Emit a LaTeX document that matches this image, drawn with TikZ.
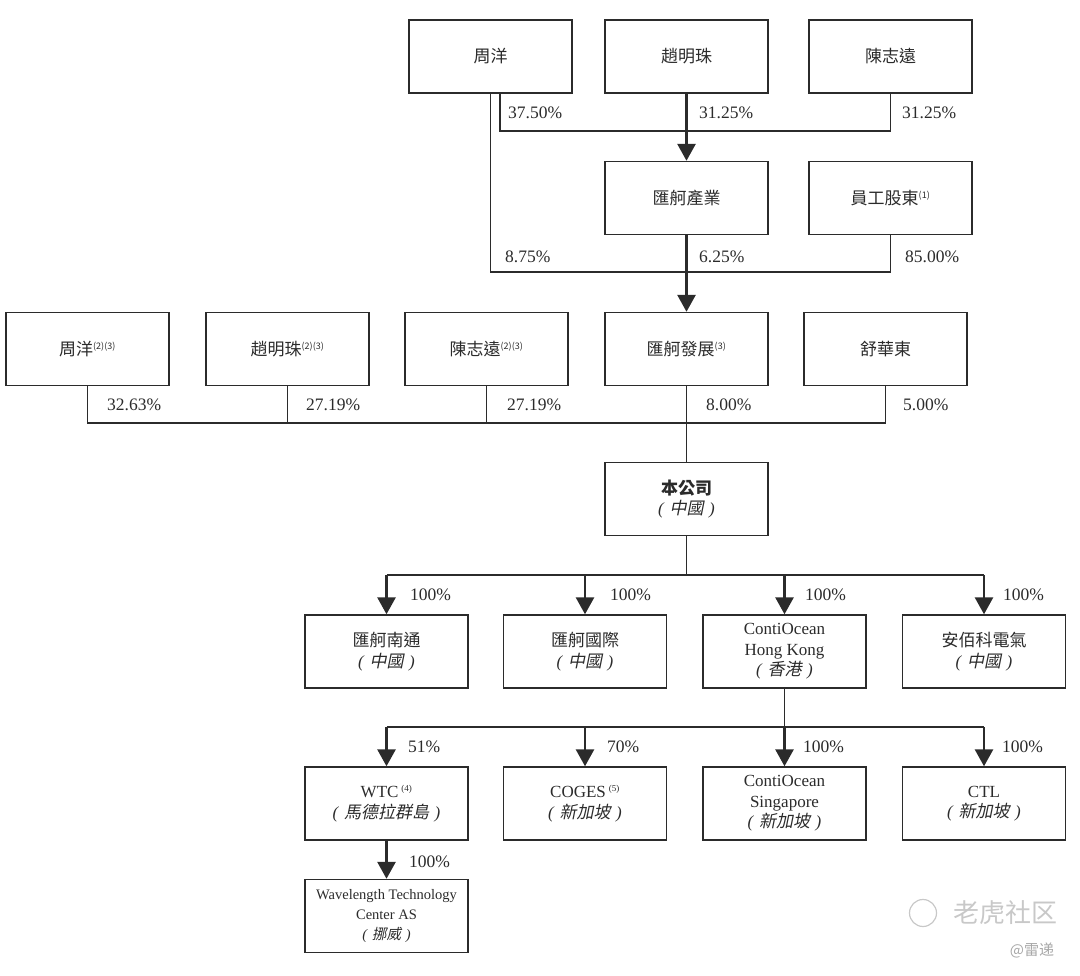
\documentclass[tikz,border=0pt]{standalone}
\usepackage{fontspec}
\setmainfont{Liberation Serif}
\newfontfamily\zhfont{Noto Sans CJK TC}
\newfontfamily\zhit{Noto Sans CJK TC}[FakeSlant=0.2]
\newfontfamily\zhsc{Noto Sans CJK SC}
\usetikzlibrary{arrows.meta}
\definecolor{ink}{HTML}{2B2B2B}
\definecolor{wm}{HTML}{C8C8C8}
\definecolor{wmdark}{HTML}{A8A8A8}
\newcommand\locn[1]{{\itshape(\,}\,{\zhit #1}\,{\itshape\,)}}
\newcommand\fn[1]{\textsuperscript{\fontsize{9}{9}\selectfont #1}}
\begin{document}
\begin{tikzpicture}[x=1pt,y=-1pt,
  box/.style={draw=ink, line width=1.4pt, minimum width=163pt, minimum height=73pt,
    inner sep=2pt, align=center, text=ink, font={\fontsize{17}{20.5}\selectfont}},
  smallbox/.style={box, font={\fontsize{14.5}{20}\selectfont}},
  line/.style={draw=ink, line width=1.4pt},
  arr/.style={draw=ink, line width=2.8pt, -{Triangle[width=18pt,length=17pt]}},
  pct/.style={anchor=west, inner sep=0pt, text=ink, font={\fontsize{17.5}{20}\selectfont}}]
\useasboundingbox (0,0) rectangle (1080,976);

% row 1
\node[box] (zy1) at (490.5,56.5) {\zhfont 周洋};
\node[box] (zm1) at (686.5,56.5) {\zhfont 趙明珠};
\node[box] (cz1) at (890.5,56.5) {\zhfont 陳志遠};
% row 2
\node[box] (hcy) at (686.5,198) {\zhfont 匯舸產業};
\node[box] (ygd) at (890.5,198) {\zhfont 員工股東\fn{(1)}};
% row 3
\node[box] (zy3) at (87.5,349) {\zhfont 周洋\fn{(2)(3)}};
\node[box] (zm3) at (287.5,349) {\zhfont 趙明珠\fn{(2)(3)}};
\node[box] (cz3) at (486.5,349) {\zhfont 陳志遠\fn{(2)(3)}};
\node[box] (hcf) at (686.5,349) {\zhfont 匯舸發展\fn{(3)}};
\node[box] (shd) at (885.5,349) {\zhfont 舒華東};
% company
\node[box] (gs) at (686.5,499) {{\zhfont\bfseries 本公司}\\\locn{中國}};
% row 5
\node[box] (r5a) at (386.5,651.5) {\zhfont 匯舸南通\\\locn{中國}};
\node[box] (r5b) at (585,651.5) {\zhfont 匯舸國際\\\locn{中國}};
\node[box] (r5c) at (784.5,651.5) {ContiOcean\\Hong Kong\\\locn{香港}};
\node[box] (r5d) at (984,651.5) {\zhfont 安佰科電氣\\\locn{中國}};
% row 6
\node[box] (r6a) at (386.5,803.5) {WTC\,\fn{(4)}\\\locn{馬德拉群島}};
\node[box] (r6b) at (585,803.5) {COGES\,\fn{(5)}\\\locn{新加坡}};
\node[box] (r6c) at (784.5,803.5) {ContiOcean\\Singapore\\\locn{新加坡}};
\node[box] (r6d) at (984,803.5) {CTL\\\locn{新加坡}};
% row 7
\node[smallbox] (r7) at (386.5,916) {Wavelength Technology\\Center AS\\\locn{挪威}};

% junctions
\coordinate (j1) at (686.5,131);
\coordinate (j2) at (686.5,272);
\coordinate (j3) at (686.5,423);
\coordinate (j4) at (686.5,575);
\coordinate (j5) at (784.5,727);

% connectors
\draw[line] ([xshift=9.5pt]zy1.south) |- (j1) -| (cz1.south);
\draw[line] (zy1.south) |- (j2) -| (ygd.south);
\draw[arr] (zm1.south) -- (hcy.north);
\draw[arr] (hcy.south) -- (hcf.north);
\draw[line] (zy3.south) |- (j3) -| (shd.south);
\draw[line] (zm3.south) -- (zm3.south |- j3);
\draw[line] (cz3.south) -- (cz3.south |- j3);
\draw[line] (hcf.south) -- (gs.north);
\draw[line] (gs.south) -- (j4);
\draw[line] (r5a.north |- j4) -- (r5d.north |- j4);
\foreach \n in {r5a,r5b,r5c,r5d} \draw[arr] (\n.north |- j4) -- (\n.north);
\draw[line] (r5c.south) -- (j5);
\draw[line] (r6a.north |- j5) -- (r6d.north |- j5);
\foreach \n in {r6a,r6b,r6c,r6d} \draw[arr] (\n.north |- j5) -- (\n.north);
\draw[arr] (r6a.south) -- (r7.north);

% percentages
\node[pct] (p1) at (508,113) {37.50\%};
\node[pct] (p2) at (699,113) {31.25\%};
\node[pct] (p3) at (902,113) {31.25\%};
\node[pct] (p4) at (505,257) {8.75\%};
\node[pct] (p5) at (699,257) {6.25\%};
\node[pct] (p6) at (905,257) {85.00\%};
\node[pct] (p7) at (107,405) {32.63\%};
\node[pct] (p8) at (306,405) {27.19\%};
\node[pct] (p9) at (507,405) {27.19\%};
\node[pct] (p10) at (706,405) {8.00\%};
\node[pct] (p11) at (903,405) {5.00\%};
\node[pct] (p12) at (410,595) {100\%};
\node[pct] (p13) at (610,595) {100\%};
\node[pct] (p14) at (805,595) {100\%};
\node[pct] (p15) at (1003,595) {100\%};
\node[pct] (p16) at (408,747) {51\%};
\node[pct] (p17) at (607,747) {70\%};
\node[pct] (p18) at (803,747) {100\%};
\node[pct] (p19) at (1002,747) {100\%};
\node[pct] (p20) at (409,862) {100\%};

% watermark
\node[draw=wm, circle, minimum size=27pt, line width=1.2pt] (wmi) at (923,913) {};
\node[text=wm, font={\zhsc\fontsize{26}{26}\selectfont}] (wm1) at (1005,913) {老虎社区};
\node[text=wmdark, font={\zhsc\fontsize{15}{15}\selectfont}] (wm2) at (1032,950) {@雷递};
\end{tikzpicture}
\end{document}
